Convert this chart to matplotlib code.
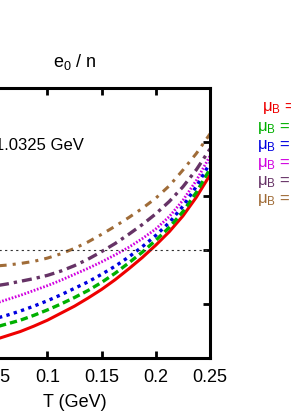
import matplotlib
matplotlib.use('Agg')
import matplotlib.pyplot as plt

# DATA
T = [0.05, 0.0625, 0.075, 0.0875, 0.1, 0.1125, 0.125, 0.1375, 0.15,
     0.1625, 0.175, 0.1875, 0.2, 0.2125, 0.225, 0.2375, 0.25]

e_red = [0.833, 0.841, 0.849, 0.859, 0.870, 0.883, 0.896, 0.911, 0.927,
         0.945, 0.965, 0.986, 1.009, 1.034, 1.063, 1.098, 1.139]
e_green = [0.856, 0.863, 0.870, 0.879, 0.889, 0.900, 0.912, 0.925, 0.940,
           0.957, 0.976, 0.996, 1.018, 1.042, 1.071, 1.107, 1.150]
e_blue = [0.872, 0.879, 0.887, 0.896, 0.906, 0.917, 0.929, 0.941, 0.955,
          0.970, 0.987, 1.006, 1.027, 1.051, 1.081, 1.118, 1.161]
e_magenta = [0.900, 0.908, 0.916, 0.925, 0.934, 0.944, 0.955, 0.966, 0.978,
             0.991, 1.005, 1.021, 1.039, 1.062, 1.092, 1.129, 1.174]
e_purple = [0.933, 0.937, 0.942, 0.947, 0.953, 0.961, 0.971, 0.983, 0.997,
            1.012, 1.029, 1.047, 1.067, 1.090, 1.117, 1.149, 1.187]
e_brown = [0.970, 0.972, 0.975, 0.979, 0.985, 0.993, 1.003, 1.015, 1.029,
           1.044, 1.060, 1.077, 1.096, 1.119, 1.148, 1.179, 1.215]

mu_labels = ['0', '100 MeV', '200 MeV', '300 MeV', '400 MeV', '500 MeV']
ref_level = 1.0
x_ticks = [0.05, 0.1, 0.15, 0.2, 0.25]
x_ticklabels = ['0.05', '0.1', '0.15', '0.2', '0.25']
y_ticks = [0.9, 1.0, 1.1, 1.2]

# ~ DATA
# ------------------------------------------------------------

plt.rcParams['font.family'] = ['Liberation Sans', 'DejaVu Sans']
plt.rcParams['mathtext.fontset'] = 'custom'
plt.rcParams['mathtext.rm'] = 'Liberation Sans'
plt.rcParams['mathtext.it'] = 'Liberation Sans'

fig = plt.figure(figsize=(2.91, 4.15), dpi=100)
W, H = 291.0, 415.0
# axes box in pixels: left -61 (off the picture), right 210, top 88, bottom 358
ax = fig.add_axes([-61 / W, (H - 358) / H, 271 / W, 270 / H])

series = [e_red, e_green, e_blue, e_magenta, e_purple, e_brown]
colors = ['#ee0000', '#00b000', '#0000e0', '#d000e0', '#663366', '#a06c38']
styles = ['-', (0, (2.2, 1.2)), (0, (1.0, 1.3)), (0, (0.6, 0.6)),
          (0, (3, 1.5, 1, 1.5)), (0, (2.5, 2, 1, 2))]
widths = [2.2, 2.4, 2.4, 2.0, 2.4, 2.2]

for y, c, ls, lw in zip(series, colors, styles, widths):
    ax.plot(T, y, color=c, linestyle=ls, linewidth=lw)

ax.axhline(ref_level, color='#333333', linestyle=(0, (2, 3)), linewidth=0.8)

ax.set_xlim(0, 0.25)
ax.set_ylim(0.8, 1.3)
ax.set_xticks(x_ticks)
ax.set_xticklabels(x_ticklabels)
ax.set_yticks(y_ticks)
ax.tick_params(direction='in', length=5, width=2, top=True, right=True,
               labelsize=13, pad=8)
ax.tick_params(axis='y', labelleft=False)
for s in ax.spines.values():
    s.set_linewidth(2.2)

ax.set_xlabel('T (GeV)', fontsize=13, labelpad=6)
ax.set_title('e$_0$ / n', fontsize=13, pad=15)

fig.text(84 / W, 1 - 145 / H, '1.0325 GeV', fontsize=12, va='center', ha='right')

# legend text, cut by the figure edge
leg_x = [262, 257, 257, 257, 257, 257]
leg_y = [107, 126, 144, 162, 180, 199]
for lab, c, lx, ly in zip(mu_labels, colors, leg_x, leg_y):
    fig.text(lx / W, 1 - ly / H, r'$\mu_B$ = ' + lab, color=c, fontsize=12,
             va='center', ha='left')

fig.savefig('out.png', dpi=100)
